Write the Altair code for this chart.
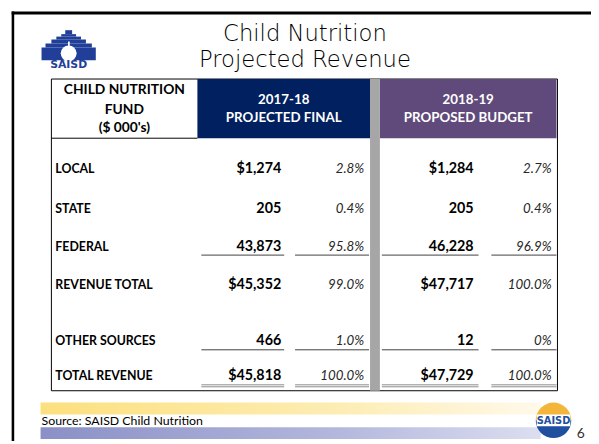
import altair as alt
import pandas as pd

# ---------------- data ----------------
categories = ["LOCAL", "STATE", "FEDERAL", "REVENUE TOTAL", "OTHER SOURCES", "TOTAL REVENUE"]
values_2017 = [1274, 205, 43873, 45352, 466, 45818]
pct_2017 = ["2.8%", "0.4%", "95.8%", "99.0%", "1.0%", "100.0%"]
values_2018 = [1284, 205, 46228, 47717, 12, 47729]
pct_2018 = ["2.7%", "0.4%", "96.9%", "100.0%", "0%", "100.0%"]
dollar_rows = ["LOCAL", "REVENUE TOTAL", "TOTAL REVENUE"]
single_underline_rows = ["FEDERAL", "OTHER SOURCES"]
double_underline_rows = ["TOTAL REVENUE"]
header_col1 = ["CHILD NUTRITION", "FUND", "($ 000's)"]
header_2017 = ["2017-18", "PROJECTED FINAL"]
header_2018 = ["2018-19", "PROPOSED BUDGET"]
title_lines = ["Child Nutrition", "Projected Revenue"]
source_text = ["Source: SAISD Child Nutrition"]
page_number = ["6"]
logo_text = ["SAISD"]

# ---------------- layout (pixels of the slide) ----------------
ROW_Y = [168, 209, 247, 286, 343, 378]
TBL_L, TBL_R, TBL_T, TBL_B = 52, 565, 77, 393
HDR_B = 137
COL1_R = 200
GRAY_L, GRAY_R = 375, 385
PURPLE_R = 564
VAL17_R, PCT17_R, VAL18_R, PCT18_R = 285, 369, 480, 559
UNDER_SPANS = [(204, 288), (299, 374), (387, 485), (498, 564)]

NAVY = "#002060"
PURPLE = "#604A7B"
GRAY = "#A6A6A6"
LOGO_BLUE = "#213F99"

W, H = 591, 436
xs = alt.Scale(domain=[8, 599], range=[0, W], zero=False, nice=False)
ys = alt.Scale(domain=[8, 444], range=[0, H], zero=False, nice=False)


def X(f):
    return alt.X(f, type="quantitative", scale=xs, axis=None)


def Y(f):
    return alt.Y(f, type="quantitative", scale=ys, axis=None)


def rects(df, **mk):
    return alt.Chart(df).mark_rect(**mk).encode(
        x=X("x"), x2=alt.X2("x2"), y=Y("y"), y2=alt.Y2("y2"))


def texts(df, **mk):
    return alt.Chart(df).mark_text(**mk).encode(
        x=X("x"), y=Y("y"), text=alt.Text("t:N"))


layers = []

# slide frame
frame = pd.DataFrame({"x": [11.7, 11.7], "x2": [14.3, 599], "y": [8.5, 8.5], "y2": [444, 11.5]})
layers.append(rects(frame, color="#000000"))

# title
title_df = pd.DataFrame({"t": title_lines, "x": [309, 309], "y": [38, 65]})
layers.append(texts(title_df, align="center", baseline="alphabetic", font="DejaVu Sans",
                    fontSize=23, fontWeight=200, color="#000000"))

# logo (top left): mission facade with a white apple
logo_blocks = pd.DataFrame({
    "x": [42, 46, 52, 57, 62, 66],
    "x2": [97, 93, 87, 82, 77, 73],
    "y": [45, 41, 37, 34, 31.5, 27.5],
    "y2": [58, 45, 41, 37, 34, 31.5],
})
layers.append(rects(logo_blocks, color=LOGO_BLUE))
apple = pd.DataFrame({"x": [69.5], "y": [51]})
layers.append(alt.Chart(apple).mark_point(filled=True, shape="circle", size=260, color="#ffffff",
                                          opacity=1).encode(x=X("x"), y=Y("y")))
stem = pd.DataFrame({"x": [68.8], "x2": [70.6], "y": [39], "y2": [44]})
layers.append(rects(stem, color="#ffffff"))
logo_t = pd.DataFrame({"t": logo_text, "x": [69.5], "y": [62.5]})
layers.append(texts(logo_t, align="center", baseline="middle", font="DejaVu Sans",
                    fontSize=11, fontWeight="bold", color=LOGO_BLUE))

# table frame and header cells
outer = pd.DataFrame({"x": [TBL_L], "x2": [TBL_R], "y": [TBL_T], "y2": [TBL_B]})
layers.append(rects(outer, fill="#ffffff", stroke="#000000", strokeWidth=1))
hdr = pd.DataFrame({"x": [COL1_R, GRAY_R], "x2": [GRAY_L, PURPLE_R], "y": [TBL_T, TBL_T],
                    "y2": [HDR_B, HDR_B], "c": [NAVY, PURPLE]})
layers.append(alt.Chart(hdr).mark_rect().encode(
    x=X("x"), x2=alt.X2("x2"), y=Y("y"), y2=alt.Y2("y2"),
    color=alt.Color("c:N", scale=None)))
gray = pd.DataFrame({"x": [GRAY_L], "x2": [GRAY_R], "y": [TBL_T], "y2": [TBL_B]})
layers.append(rects(gray, color=GRAY))
hdr_line = pd.DataFrame({"x": [TBL_L], "x2": [COL1_R], "y": [HDR_B]})
layers.append(alt.Chart(hdr_line).mark_rule(color="#000000", strokeWidth=1).encode(
    x=X("x"), x2=alt.X2("x2"), y=Y("y")))

# header text
h1 = pd.DataFrame({"t": header_col1, "x": [126] * 3, "y": [88, 108, 127]})
layers.append(texts(h1, align="center", baseline="middle", font="Lato", fontSize=14,
                    fontWeight="bold", color="#000000"))
h2 = pd.DataFrame({"t": header_2017 + header_2018,
                   "x": [(COL1_R + GRAY_L) / 2] * 2 + [(GRAY_R + PURPLE_R) / 2] * 2,
                   "y": [98, 117, 98, 117]})
layers.append(texts(h2, align="center", baseline="middle", font="Lato", fontSize=13.5,
                    fontWeight="bold", color="#ffffff"))


# body
def fmt(cat, v):
    s = f"{v:,}"
    return "$" + s if cat in dollar_rows else s


lab = pd.DataFrame({"t": categories, "x": [56] * len(categories), "y": ROW_Y})
layers.append(texts(lab, align="left", baseline="middle", font="Lato", fontSize=12.5,
                    fontWeight="bold", color="#000000"))
vals = pd.DataFrame({
    "t": [fmt(c, v) for c, v in zip(categories, values_2017)]
         + [fmt(c, v) for c, v in zip(categories, values_2018)],
    "x": [VAL17_R] * len(categories) + [VAL18_R] * len(categories),
    "y": ROW_Y + ROW_Y,
})
layers.append(texts(vals, align="right", baseline="middle", font="Lato", fontSize=14.5,
                    fontWeight="bold", color="#000000"))
pcts = pd.DataFrame({
    "t": pct_2017 + pct_2018,
    "x": [PCT17_R] * len(categories) + [PCT18_R] * len(categories),
    "y": ROW_Y + ROW_Y,
})
layers.append(texts(pcts, align="right", baseline="middle", font="Lato", fontSize=13.5,
                    fontStyle="italic", color="#262626"))

# underlines
ul = []
for c, yv in zip(categories, ROW_Y):
    if c in single_underline_rows:
        for a, b in UNDER_SPANS:
            ul.append({"x": a, "x2": b, "y": yv + 8.5, "k": "s"})
    if c in double_underline_rows:
        for a, b in UNDER_SPANS:
            ul.append({"x": a, "x2": b, "y": yv + 9, "k": "d"})
            ul.append({"x": a, "x2": b, "y": yv + 11, "k": "d"})
ul = pd.DataFrame(ul)
layers.append(alt.Chart(ul[ul.k == "s"]).mark_rule(color="#404040", strokeWidth=1).encode(
    x=X("x"), x2=alt.X2("x2"), y=Y("y")))
layers.append(alt.Chart(ul[ul.k == "d"]).mark_rule(color="#8c8c8c", strokeWidth=1).encode(
    x=X("x"), x2=alt.X2("x2"), y=Y("y")))

# footer bands
yellow = alt.LinearGradient(gradient="linear", x1=0, x2=1, y1=0, y2=0, stops=[
    alt.GradientStop(color="#FCE07E", offset=0),
    alt.GradientStop(color="#FDEDB4", offset=0.6),
    alt.GradientStop(color="#FFF9EA", offset=1)])
blue = alt.LinearGradient(gradient="linear", x1=0, x2=1, y1=0, y2=0, stops=[
    alt.GradientStop(color="#8A90C6", offset=0),
    alt.GradientStop(color="#B4B8DD", offset=0.6),
    alt.GradientStop(color="#DCDEF0", offset=1)])
yb = pd.DataFrame({"x": [41], "x2": [548], "y": [405], "y2": [417]})
bb = pd.DataFrame({"x": [41], "x2": [548], "y": [430], "y2": [442]})
layers.append(rects(yb, fill=yellow))
layers.append(rects(bb, fill=blue))
src = pd.DataFrame({"t": source_text, "x": [42], "y": [423.5]})
layers.append(texts(src, align="left", baseline="middle", font="Lato", fontSize=12.5,
                    color="#000000"))

# badge (bottom right)
badge = pd.DataFrame({"x": [561], "y": [423]})
layers.append(alt.Chart(badge).mark_arc(radius=18, theta=4.7124, theta2=7.854,
                                        color="#F3B63A").encode(x=X("x"), y=Y("y")))
layers.append(alt.Chart(badge).mark_arc(radius=18, theta=1.5708, theta2=4.7124,
                                        color="#1F4F9E").encode(x=X("x"), y=Y("y")))
band = pd.DataFrame({"x": [544], "x2": [578], "y": [417], "y2": [429]})
layers.append(rects(band, color="#ffffff"))
bt = pd.DataFrame({"t": logo_text, "x": [561], "y": [423.5]})
layers.append(texts(bt, align="center", baseline="middle", font="DejaVu Sans", fontSize=10,
                    fontWeight="bold", color="#1F4F9E"))

# page number
pn = pd.DataFrame({"t": page_number, "x": [588.5], "y": [437]})
layers.append(texts(pn, align="center", baseline="middle", font="Lato", fontSize=14,
                    color="#333333"))

chart = alt.layer(*layers).properties(
    width=W, height=H, padding=0, autosize=alt.AutoSizeParams(type="none"),
    background="#ffffff",
).configure_view(stroke=None)

chart.save("out.html", embed_options={"renderer": "svg", "actions": False})
